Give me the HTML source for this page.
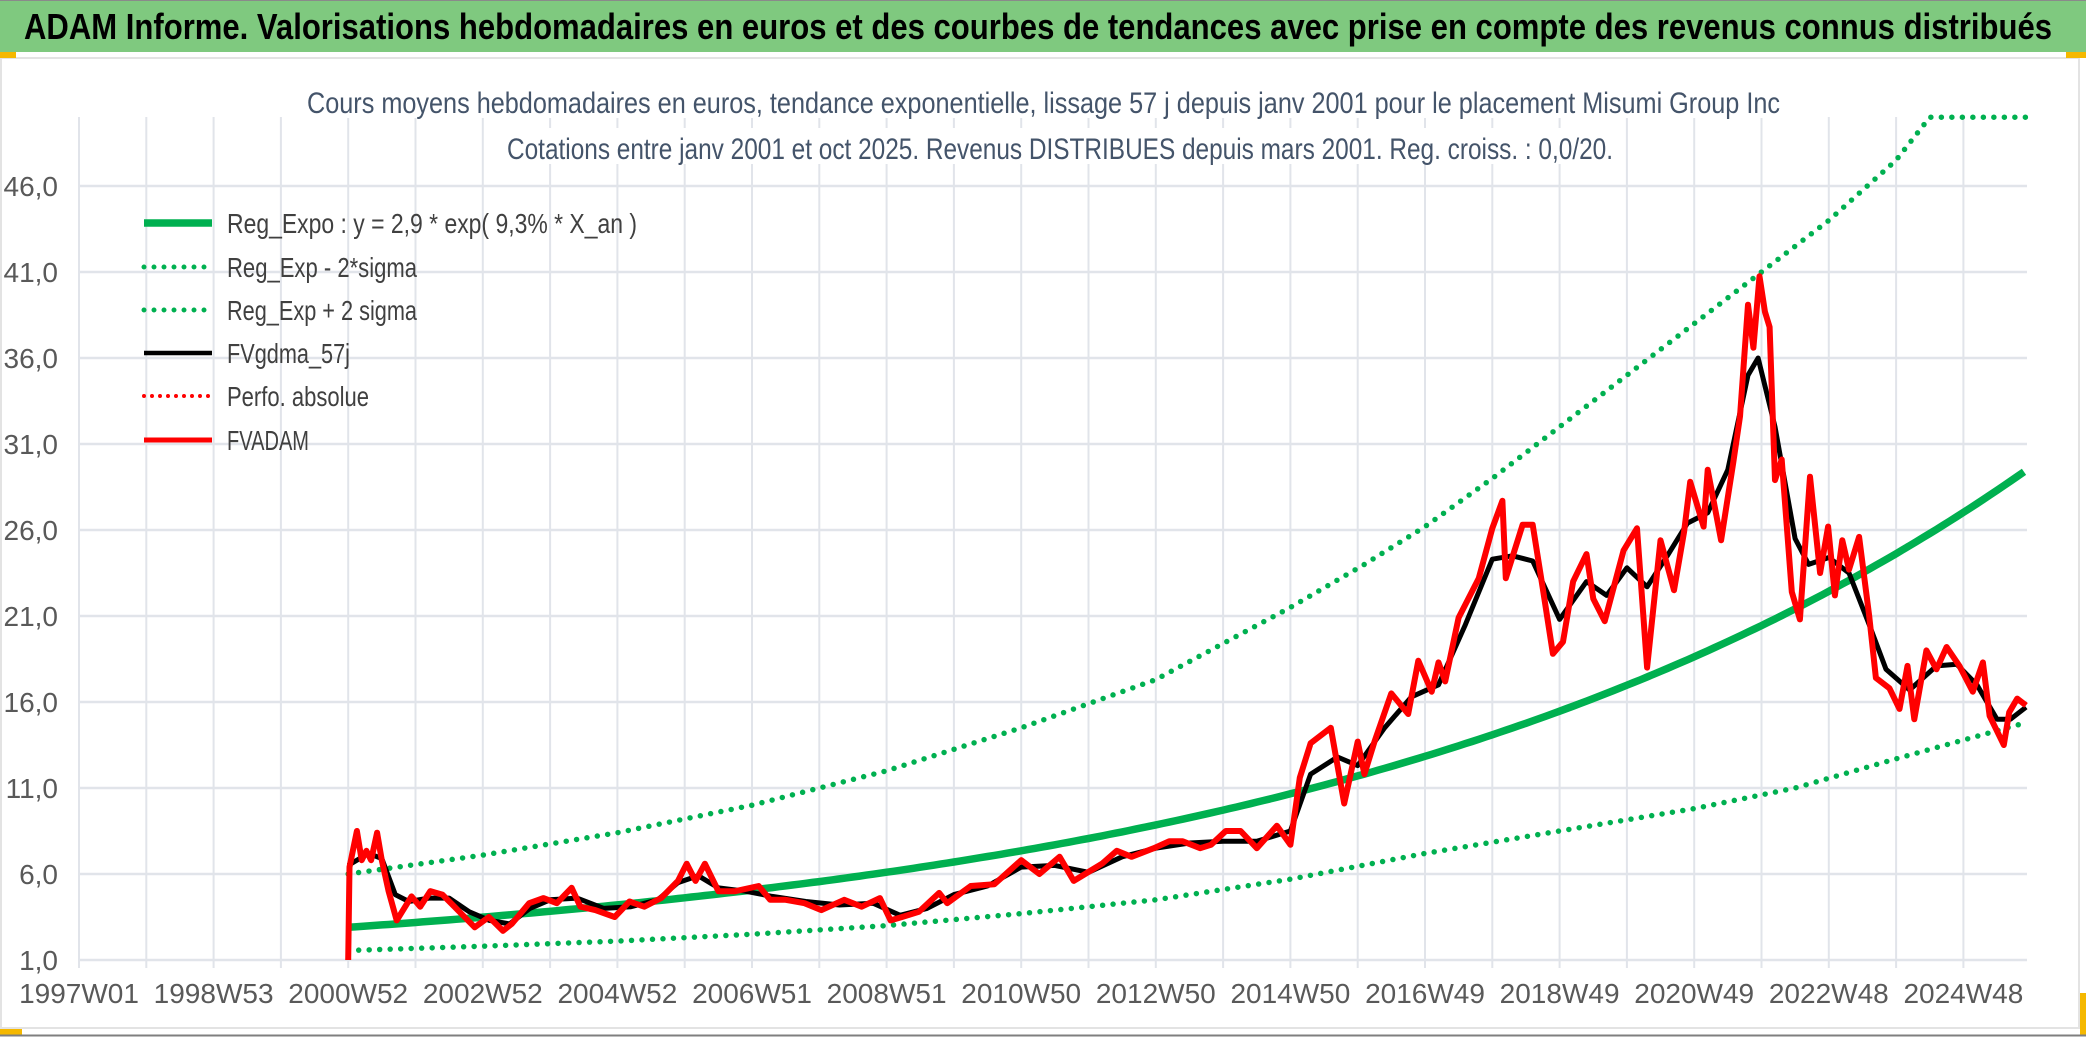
<!DOCTYPE html>
<html><head><meta charset="utf-8">
<style>
html,body{margin:0;padding:0;background:#fff;}
svg{display:block;font-family:"Liberation Sans Narrow","Liberation Sans",sans-serif;}
</style></head>
<body>
<svg id="chart" width="2086" height="1037" viewBox="0 0 2086 1037" xmlns="http://www.w3.org/2000/svg">
  <rect x="0" y="0" width="2086" height="1037" fill="#ffffff"/>
  <rect x="0" y="0" width="2086" height="52" fill="#7fc97f"/>
  <line x1="0" y1="0.5" x2="2086" y2="0.5" stroke="#8a8a8a" stroke-width="1"/>
  <text x="24" y="39" font-size="36" font-weight="bold" fill="#000" textLength="2028" lengthAdjust="spacingAndGlyphs">ADAM Informe. Valorisations hebdomadaires en euros et des courbes de tendances avec prise en compte des revenus connus distribués</text>
  <rect x="1" y="58" width="2078" height="970" fill="none" stroke="#e3e3e3" stroke-width="2"/>
  <rect x="0" y="52" width="16" height="6" fill="#f5b800"/>
  <rect x="0" y="1029" width="22" height="6" fill="#f5b800"/>
  <rect x="2066" y="52" width="20" height="6" fill="#f5b800"/>
  <rect x="2080" y="993" width="6" height="42" fill="#f5b800"/>
  <line x1="0" y1="1035.5" x2="2086" y2="1035.5" stroke="#7f7f7f" stroke-width="2"/>
  <g id="grid"></g>
  <g id="series"></g>
  <g id="axes"></g>
  <rect x="300" y="82" width="1490" height="36" fill="#fff"/>
  <rect x="500" y="128" width="1120" height="36" fill="#fff"/>
  <text x="307" y="113" font-size="30" fill="#44546a" textLength="1473" lengthAdjust="spacingAndGlyphs">Cours moyens hebdomadaires en euros, tendance exponentielle, lissage 57 j depuis janv 2001 pour le placement Misumi Group Inc</text>
  <text x="507" y="159" font-size="30" fill="#44546a" textLength="1106" lengthAdjust="spacingAndGlyphs">Cotations entre janv 2001 et oct 2025. Revenus DISTRIBUES depuis mars 2001. Reg. croiss. : 0,0/20.</text>
  <g id="legend"></g>
</svg>
<script>
// ---- data (t = years since 1997W01, 52-week units) ----
const xLabels = ["1997W01","1998W53","2000W52","2002W52","2004W52","2006W51","2008W51","2010W50","2012W50","2014W50","2016W49","2018W49","2020W49","2022W48","2024W48"];
const yTicks = [1,6,11,16,21,26,31,36,41,46];
const trendCoef = [2.9, 0.093];
const trendRange = [4.0, 28.93];
const upperT = [4,6,8,10,12,14,16,18,19.1,20,21,22,23,24,25,26,27,27.5,28.93];
const upperV = [6.0,7.1,8.4,10.0,12.0,14.5,17.3,21.5,24.0,26.2,29.0,32.0,35.0,38.0,41.0,44.0,47.5,50,50];
const lowerT = [4,6,8,10,12,14,16,18,20,22,24,25.5,27,28.93];
const lowerV = [1.55,1.8,2.1,2.5,3.0,3.7,4.5,5.7,7.2,8.5,9.8,11.0,12.7,14.8];
const redT = [4.0,4.02,4.13,4.2,4.27,4.34,4.43,4.5,4.6,4.72,4.94,5.07,5.22,5.4,5.58,5.88,6.09,6.3,6.43,6.69,6.9,7.1,7.32,7.45,7.67,7.96,8.18,8.4,8.65,8.9,9.03,9.16,9.3,9.5,9.75,10.1,10.27,10.5,10.78,11.03,11.37,11.63,11.9,12.06,12.23,12.48,12.78,12.9,13.25,13.6,14.0,14.27,14.57,14.78,14.95,15.2,15.42,15.64,15.97,16.2,16.4,16.66,16.82,17.04,17.26,17.5,17.8,18.0,18.14,18.3,18.6,18.8,19.0,19.1,19.25,19.5,19.75,19.9,20.1,20.2,20.3,20.5,20.8,21.0,21.15,21.2,21.45,21.6,21.75,21.9,22.05,22.2,22.4,22.5,22.67,22.95,23.15,23.3,23.5,23.7,23.85,23.94,24.14,24.2,24.4,24.58,24.68,24.8,24.88,24.97,25.05,25.12,25.2,25.3,25.45,25.57,25.72,25.87,25.99,26.09,26.2,26.3,26.45,26.6,26.7,26.9,27.05,27.17,27.27,27.45,27.6,27.75,27.94,28.14,28.29,28.39,28.6,28.68,28.8,28.93];
const redV = [1.0,6.4,8.5,6.8,7.35,6.8,8.4,6.8,5.0,3.3,4.7,4.1,5.0,4.8,4.1,2.9,3.5,2.7,3.1,4.3,4.6,4.3,5.2,4.1,3.9,3.5,4.4,4.1,4.6,5.6,6.6,5.6,6.6,5.0,5.0,5.3,4.5,4.5,4.3,3.9,4.5,4.1,4.6,3.3,3.5,3.8,4.9,4.3,5.3,5.4,6.8,6.0,7.0,5.6,6.0,6.6,7.35,7.0,7.5,7.9,7.9,7.5,7.7,8.5,8.5,7.5,8.8,7.7,11.6,13.6,14.5,10.1,13.7,11.8,13.7,16.5,15.3,18.4,16.6,18.3,17.2,20.9,23.2,26.1,27.7,23.2,26.3,26.3,22.6,18.8,19.5,23.0,24.6,22.0,20.7,24.8,26.1,18.0,25.4,22.5,25.9,28.8,26.2,29.5,25.4,29.9,32.6,39.1,36.6,40.75,38.7,37.8,28.9,30.1,22.4,20.8,29.1,23.5,26.2,22.2,25.4,23.7,25.6,21.0,17.4,16.8,15.6,18.1,15.0,19.0,17.9,19.2,18.1,16.6,18.3,15.2,13.5,15.4,16.2,15.8];
const smoothT = [4.0,4.3,4.5,4.7,4.9,5.2,5.5,5.8,6.1,6.4,6.7,7.0,7.4,7.8,8.2,8.6,8.9,9.2,9.5,9.9,10.3,10.8,11.3,11.8,12.2,12.6,13.0,13.5,14.0,14.5,15.0,15.5,16.0,16.5,17.0,17.5,18.0,18.3,18.7,19.0,19.4,19.8,20.2,20.6,21.0,21.3,21.6,22.0,22.4,22.7,23.0,23.3,23.6,23.9,24.2,24.5,24.8,24.95,25.2,25.5,25.7,26.0,26.3,26.6,26.85,27.2,27.6,27.9,28.2,28.5,28.7,28.93];
const smoothV = [6.5,7.2,6.9,4.8,4.4,4.6,4.6,3.8,3.3,3.1,4.0,4.5,4.6,4.0,4.1,4.5,5.5,5.9,5.2,5.0,4.7,4.4,4.2,4.3,3.6,4.0,4.8,5.3,6.4,6.5,6.1,7.0,7.5,7.8,7.9,7.9,8.5,11.8,12.8,12.3,14.5,16.3,17.0,20.5,24.3,24.5,24.2,20.8,23.0,22.2,23.8,22.7,24.5,26.4,27.0,29.5,35.0,36.0,32.0,25.5,24.0,24.4,23.5,20.5,17.9,16.7,18.1,18.2,17.0,15.0,15.0,15.7];

// ---- scales ----
const X0 = 79, PXY = 67.3, Y0 = 960, PXV = 17.2, XEND = 2027;
function xs(t){ return X0 + t*PXY; }
function ys(v){ return Y0 - (v-1)*PXV; }
const NS = "http://www.w3.org/2000/svg";
function mk(tag, attrs, parent){ const e=document.createElementNS(NS,tag); for(const k in attrs) e.setAttribute(k, attrs[k]); parent.appendChild(e); return e; }
function pathFrom(T,V){ return T.map((t,i)=>(i?"L":"M")+xs(t).toFixed(1)+","+ys(V[i]).toFixed(1)).join(" "); }

const grid = document.getElementById("grid");
const axes = document.getElementById("axes");
const series = document.getElementById("series");

for(let k=0;k<=28;k++){
  const l = mk("line",{x1:xs(k),x2:xs(k),y1:117,y2:968,stroke:"#e1e4ea","stroke-width":2},grid);
  
  
}
yTicks.forEach(v=>{
  const l = mk("line",{x1:X0,x2:XEND,y1:ys(v),y2:ys(v),stroke:"#e1e4ea","stroke-width":2.5},grid);
  
  
  const t = mk("text",{x:58,y:ys(v)+10,"text-anchor":"end","font-size":28,fill:"#595959"},axes);
  t.textContent = v.toFixed(1).replace(".",",");
  
  
});
xLabels.forEach((s,i)=>{
  const t = mk("text",{x:xs(i*2),y:1003,"text-anchor":"middle","font-size":28,fill:"#595959"},axes);
  t.textContent = s;
  
  
});

const lo = mk("path",{d:pathFrom(lowerT,lowerV),fill:"none",stroke:"#00b050","stroke-width":5.5,"stroke-linecap":"round","stroke-dasharray":"0 10.5"},series);


const up = mk("path",{d:pathFrom(upperT,upperV),fill:"none",stroke:"#00b050","stroke-width":5.5,"stroke-linecap":"round","stroke-dasharray":"0 10.5"},series);


const trT=[], trV=[];
for(let t=trendRange[0]; t<=trendRange[1]+1e-9; t+=0.1){ trT.push(t); trV.push(trendCoef[0]*Math.exp(trendCoef[1]*(t-trendRange[0]))); }
const tr = mk("path",{d:pathFrom(trT,trV),fill:"none",stroke:"#00b050","stroke-width":7.5},series);


const bk = mk("path",{d:pathFrom(smoothT,smoothV),fill:"none",stroke:"#000","stroke-width":5,"stroke-linejoin":"round"},series);


const rd = mk("path",{d:pathFrom(redT,redV),fill:"none",stroke:"#ff0000","stroke-width":6,"stroke-linejoin":"round"},series);



const legend = document.getElementById("legend");
const legItems = [
  ["Reg_Expo : y = 2,9 * exp( 9,3% *  X_an )","#00b050",7.5,null,"legend-reg-expo",410],
  ["Reg_Exp - 2*sigma","#00b050",5,"0 10","legend-reg-exp-minus",190],
  ["Reg_Exp + 2 sigma","#00b050",5,"0 10","legend-reg-exp-plus",190],
  ["FVgdma_57j","#000",4.5,null,"legend-fvgdma",123],
  ["Perfo. absolue","#ff0000",4,"0 8","legend-perfo-absolue",142],
  ["FVADAM","#ff0000",5,null,"legend-fvadam",82]
];
const legY = [223,267,310,353,396,440];
legItems.forEach((it,i)=>{
  const g = mk("g",{},legend);
  
  
  const a = {x1:144,x2:212,y1:legY[i],y2:legY[i],stroke:it[1],"stroke-width":it[2],"stroke-linecap":it[3]?"round":"butt"};
  if(it[3]) a["stroke-dasharray"]=it[3];
  mk("line",a,g);
  const t = mk("text",{x:227,y:legY[i]+10,"font-size":28,fill:"#404040",textLength:it[5],lengthAdjust:"spacingAndGlyphs"},g);
  t.textContent = it[0];
});
</script>
</body></html>
